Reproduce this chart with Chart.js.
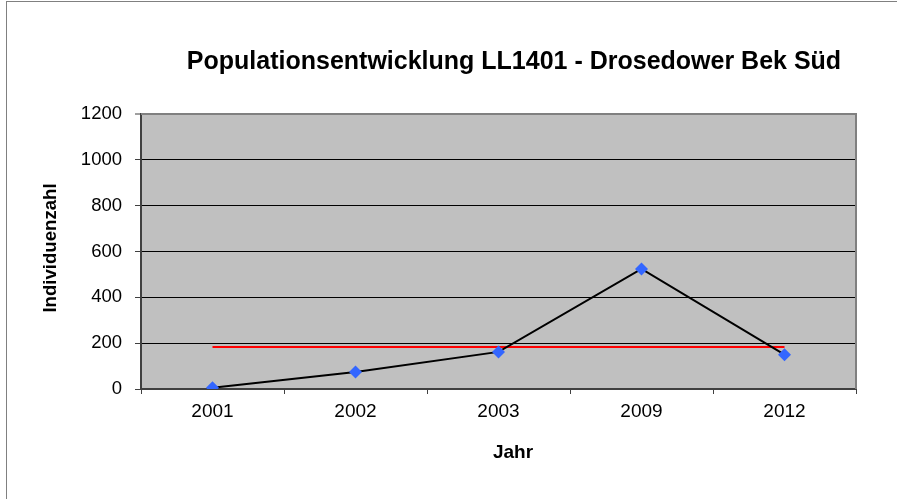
<!DOCTYPE html>
<html>
<head>
<meta charset="utf-8">
<script src="https://cdn.jsdelivr.net/npm/chart.js@4/dist/chart.umd.min.js"></script>
<style>
  html, body { margin: 0; padding: 0; background: #ffffff; overflow: hidden; width: 897px; height: 499px; }
  #frame { position: absolute; left: 6px; top: 1px; width: 1000px; height: 1000px; border: 1px solid #808080; box-sizing: border-box; }
  #c { position: absolute; left: 0; top: 0; }
</style>
</head>
<body>
<div id="frame"></div>
<canvas id="c" width="897" height="499"></canvas>
<script>
const chartTitle = 'Populationsentwicklung LL1401 - Drosedower Bek Süd';
const xTitle = 'Jahr';
const yTitle = 'Individuenzahl';
const years = ['2001', '2002', '2003', '2009', '2012'];
const counts = [5, 74, 162, 524, 150];
const meanLine = [183, 183, 183, 183, 183];
const yTicks = [0, 200, 400, 600, 800, 1000, 1200];

const FONT = '"Liberation Sans", Arial, sans-serif';

const plotDecor = {
  id: 'plotDecor',
  beforeDraw(chart) {
    const { ctx, chartArea: a } = chart;
    ctx.save();
    ctx.fillStyle = '#C0C0C0';
    ctx.fillRect(a.left, a.top, a.right - a.left, a.bottom - a.top);
    ctx.restore();
  },
  beforeDatasetsDraw(chart) {
    const { ctx, chartArea: a } = chart;
    ctx.save();
    ctx.strokeStyle = '#808080';
    ctx.lineWidth = 2;
    ctx.beginPath();
    ctx.moveTo(a.left, a.top);
    ctx.lineTo(a.right, a.top);
    ctx.lineTo(a.right, a.bottom);
    ctx.stroke();
    ctx.restore();
  },
  afterDraw(chart) {
    const { ctx } = chart;
    ctx.save();
    ctx.fillStyle = '#000000';
    ctx.textAlign = 'center';
    ctx.textBaseline = 'middle';
    ctx.font = 'bold 25px ' + FONT;
    ctx.fillText(chartTitle, 514, 62);
    ctx.font = 'bold 19px ' + FONT;
    ctx.fillText(xTitle, 513, 453);
    ctx.translate(51, 248);
    ctx.rotate(-Math.PI / 2);
    ctx.font = 'bold 18.6px ' + FONT;
    ctx.fillText(yTitle, 0, 0);
    ctx.restore();
  }
};

new Chart(document.getElementById('c'), {
  type: 'line',
  data: {
    labels: years,
    datasets: [
      {
        label: 'Mittelwert',
        data: meanLine,
        borderColor: '#FF0000',
        borderWidth: 2,
        pointRadius: 0,
        pointHoverRadius: 0,
        fill: false,
        tension: 0,
        order: 2
      },
      {
        label: 'Individuenzahl',
        data: counts,
        borderColor: '#000000',
        borderWidth: 2,
        pointStyle: 'rectRot',
        pointRadius: 6.5,
        pointBackgroundColor: '#3366FF',
        pointBorderColor: '#3366FF',
        pointBorderWidth: 0,
        fill: false,
        tension: 0,
        order: 1
      }
    ]
  },
  options: {
    responsive: false,
    animation: false,
    events: [],
    layout: { padding: { left: 0, right: 41, top: 114, bottom: 0 } },
    plugins: {
      legend: { display: false },
      title: { display: false },
      tooltip: { enabled: false }
    },
    scales: {
      x: {
        type: 'category',
        offset: true,
        afterFit(scale) { scale.height = 110; },
        grid: {
          offset: true,
          drawOnChartArea: false,
          drawTicks: true,
          tickLength: 5,
          tickColor: '#404040',
          tickWidth: 1
        },
        border: { display: true, color: '#404040', width: 2 },
        ticks: {
          color: '#000000',
          font: { family: FONT, size: 19 },
          padding: 6,
          maxRotation: 0,
          autoSkip: false
        },
        title: { display: false }
      },
      y: {
        min: 0,
        max: 1200,
        afterFit(scale) { scale.width = 141; },
        afterBuildTicks(scale) { scale.ticks = yTicks.map(v => ({ value: v })); },
        grid: {
          drawOnChartArea: true,
          drawTicks: true,
          tickLength: 6,
          color: (c) => (c.tick && c.tick.value === 1200) ? '#808080' : '#000000',
          lineWidth: (c) => (c.tick && c.tick.value === 1200) ? 2 : 1,
          tickColor: '#404040',
          tickWidth: 1
        },
        border: { display: true, color: '#404040', width: 2 },
        ticks: {
          color: '#000000',
          font: { family: FONT, size: 18.5 },
          padding: 13,
          callback: (v) => String(v)
        },
        title: { display: false }
      }
    }
  },
  plugins: [plotDecor]
});
</script>
</body>
</html>
